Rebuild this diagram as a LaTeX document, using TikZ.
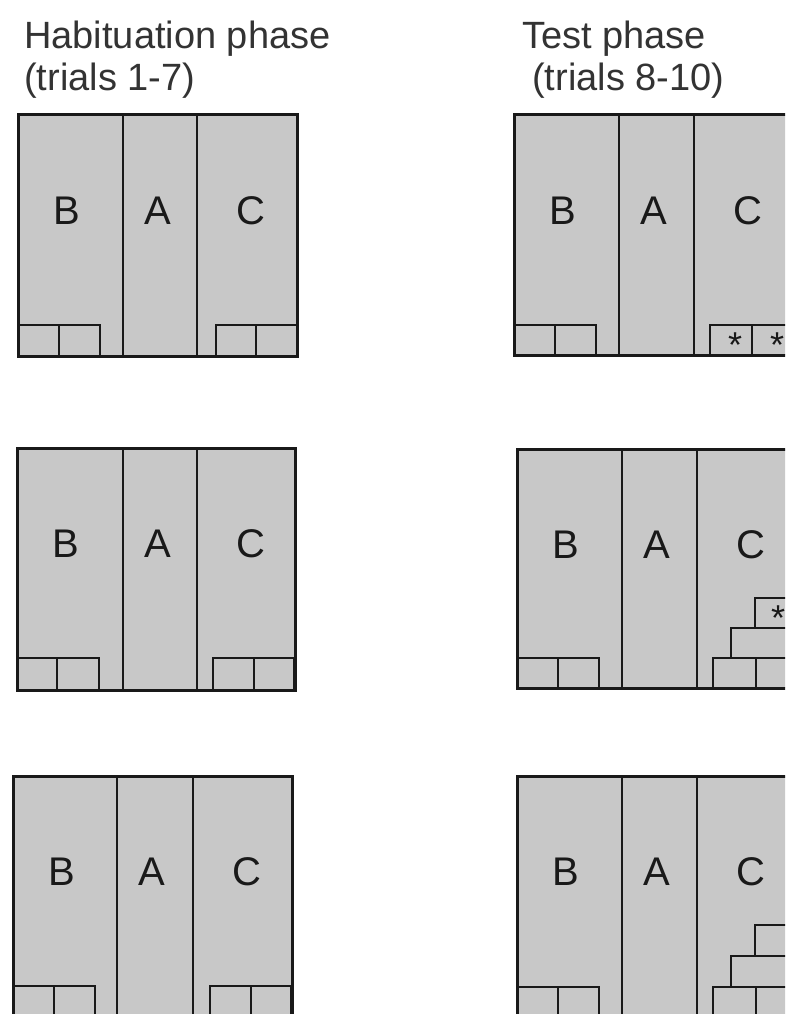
\documentclass[tikz,border=0pt]{standalone}
\usepackage{fontspec}
\setmainfont{Liberation Sans}
\definecolor{panelgray}{RGB}{200,200,200}
\definecolor{inkc}{RGB}{25,25,25}
\begin{document}
\begin{tikzpicture}[x=1pt,y=-1pt,
  panel/.style={fill=panelgray,draw=inkc,line width=3pt},
  divider/.style={draw=inkc,line width=2pt},
  smallbox/.style={draw=inkc,line width=2.4pt},
  letter/.style={anchor=base,inner sep=0pt,text=inkc,font=\fontsize{40}{40}\selectfont},
  title/.style={anchor=base west,inner sep=0pt,text=black!80,font=\fontsize{38}{38}\selectfont},
  starmark/.style={anchor=base,inner sep=0pt,text=inkc,font=\fontsize{36}{36}\selectfont}]
\useasboundingbox (0,0) rectangle (785,1014);
\fill[white] (0,0) rectangle (785,1014);
\clip (0,0) rectangle (785,1014);
% titles
\node[title] (t1) at (24,49) {Habituation phase};
\node[title] (t2) at (24,91) {(trials 1-7)};
\node[title] (t3) at (522,49) {Test phase};
\node[title] (t4) at (532,91) {(trials 8-10)};
% panels: L, T, d1, d2, R, B, name
\foreach \L/\T/\da/\db/\R/\B/\n in {18/115/123/197/297/356/la, 17/448/123/197/295/690/lb, 13/776/117/193/292/1018/lc, 514/115/619/694/793/355/ra, 517/449/622/697/796/688/rb, 517/776/622/697/796/1018/rc}{
  \draw[panel] (\L,\T) rectangle (\R,\B);
  \draw[divider] (\da,\T) -- (\da,\B);
  \draw[divider] (\db,\T) -- (\db,\B);
  \node[letter] (\n B) at (\L+49,\T+109) {B};
  \node[letter] (\n A) at (\da+35,\T+109) {A};
  \node[letter] (\n C) at (\db+54,\T+109) {C};
}
% small boxes, left pairs
\foreach \x/\m/\y/\B in {18/59/325/356, 17/57/658/690, 13/54/986/1018, 514/555/325/355, 517/558/658/688, 517/558/987/1018}{
  \draw[smallbox] (\x,\B) -- (\x,\y) -- (\x+82,\y) -- (\x+82,\B);
  \draw[smallbox] (\m,\y) -- (\m,\B);
}
% small boxes, right pairs of habituation panels
\foreach \x/\m/\y/\B in {216/256/325/356, 213/254/658/690, 210/251/986/1018}{
  \draw[smallbox] (\x,\B) -- (\x,\y) -- (\x+81,\y) -- (\x+81,\B);
  \draw[smallbox] (\m,\y) -- (\m,\B);
}
% test phase, top: two boxes with stars
\draw[smallbox] (710,355) -- (710,325) -- (800,325);
\draw[smallbox] (752,325) -- (752,355);
\node[starmark] (s1) at (735,357) {*};
\node[starmark] (s2) at (777,357) {*};
% test phase, middle: staircase
\draw[smallbox] (713,688) -- (713,658) -- (800,658);
\draw[smallbox] (756,658) -- (756,688);
\draw[smallbox] (731,658) -- (731,628) -- (800,628);
\draw[smallbox] (755,628) -- (755,598) -- (800,598);
\node[starmark] (s3) at (778,630) {*};
% test phase, bottom: staircase
\draw[smallbox] (713,1018) -- (713,987) -- (800,987);
\draw[smallbox] (756,987) -- (756,1018);
\draw[smallbox] (731,987) -- (731,956) -- (800,956);
\draw[smallbox] (755,956) -- (755,925) -- (800,925);
\end{tikzpicture}
\end{document}
